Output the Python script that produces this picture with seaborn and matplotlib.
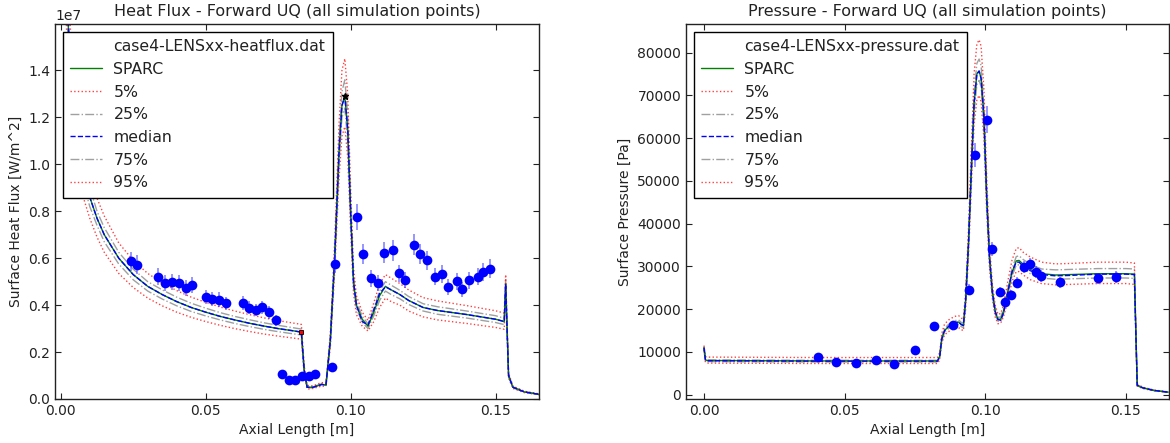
import numpy as np
import pandas as pd
import matplotlib
matplotlib.use("Agg")
import matplotlib.pyplot as plt
from matplotlib.lines import Line2D
import seaborn as sns

# ---------------- Heat flux (values in 1e7 W/m^2) ----------------
hf_x = [0.0000, 0.0010, 0.0020, 0.0030, 0.0040, 0.0060, 0.0080, 0.0100, 0.0125, 0.0150,
        0.0200, 0.0250, 0.0300, 0.0350, 0.0400, 0.0450, 0.0500, 0.0550, 0.0600, 0.0650,
        0.0700, 0.0750, 0.0800, 0.0830, 0.0840, 0.0850, 0.0870, 0.0900, 0.0915, 0.0930,
        0.0945, 0.0960, 0.0970, 0.0980, 0.0990, 0.1000, 0.1010, 0.1020, 0.1040, 0.1060,
        0.1080, 0.1100, 0.1120, 0.1140, 0.1170, 0.1200, 0.1250, 0.1300, 0.1400, 0.1500,
        0.1530, 0.1535, 0.1545, 0.1560, 0.1600, 0.1650]
hf_sparc = [3.00, 2.30, 1.75, 1.48, 1.30, 1.08, 0.95, 0.86, 0.77, 0.70,
            0.60, 0.53, 0.48, 0.445, 0.415, 0.39, 0.37, 0.352, 0.337, 0.323,
            0.311, 0.300, 0.291, 0.285, 0.12, 0.05, 0.05, 0.062, 0.06, 0.25,
            0.60, 1.05, 1.25, 1.29, 1.15, 0.80, 0.50, 0.40, 0.34, 0.31,
            0.37, 0.44, 0.48, 0.465, 0.445, 0.42, 0.39, 0.377, 0.36, 0.34,
            0.33, 0.49, 0.10, 0.05, 0.03, 0.02]
hf_p05 = [2.70, 2.05, 1.56, 1.32, 1.16, 0.96, 0.85, 0.77, 0.69, 0.625,
          0.535, 0.475, 0.43, 0.397, 0.37, 0.348, 0.33, 0.314, 0.30, 0.288,
          0.277, 0.268, 0.26, 0.255, 0.10, 0.042, 0.045, 0.055, 0.054, 0.22,
          0.54, 0.94, 1.12, 1.16, 1.03, 0.72, 0.45, 0.36, 0.31, 0.29,
          0.33, 0.39, 0.43, 0.415, 0.40, 0.375, 0.35, 0.337, 0.322, 0.305,
          0.297, 0.44, 0.09, 0.045, 0.027, 0.018]
hf_p25 = [2.88, 2.20, 1.68, 1.42, 1.24, 1.03, 0.91, 0.82, 0.74, 0.67,
          0.575, 0.508, 0.46, 0.426, 0.397, 0.373, 0.354, 0.337, 0.322, 0.309,
          0.297, 0.287, 0.278, 0.273, 0.11, 0.047, 0.048, 0.059, 0.058, 0.24,
          0.575, 1.00, 1.20, 1.24, 1.10, 0.77, 0.48, 0.385, 0.327, 0.30,
          0.355, 0.42, 0.46, 0.445, 0.427, 0.403, 0.375, 0.361, 0.345, 0.326,
          0.317, 0.47, 0.095, 0.048, 0.029, 0.019]
hf_med = [3.00, 2.30, 1.75, 1.48, 1.30, 1.08, 0.95, 0.86, 0.77, 0.70,
          0.60, 0.53, 0.48, 0.445, 0.415, 0.39, 0.37, 0.352, 0.337, 0.323,
          0.311, 0.300, 0.291, 0.285, 0.12, 0.05, 0.05, 0.062, 0.06, 0.25,
          0.60, 1.05, 1.25, 1.29, 1.15, 0.80, 0.50, 0.40, 0.33, 0.315,
          0.38, 0.45, 0.478, 0.465, 0.445, 0.42, 0.39, 0.377, 0.36, 0.34,
          0.33, 0.49, 0.10, 0.05, 0.03, 0.02]
hf_p75 = [3.12, 2.40, 1.82, 1.54, 1.36, 1.13, 0.99, 0.90, 0.80, 0.73,
          0.625, 0.553, 0.50, 0.465, 0.434, 0.408, 0.387, 0.368, 0.352, 0.338,
          0.325, 0.314, 0.304, 0.298, 0.13, 0.053, 0.052, 0.065, 0.063, 0.26,
          0.625, 1.10, 1.31, 1.36, 1.21, 0.84, 0.52, 0.415, 0.353, 0.32,
          0.385, 0.46, 0.50, 0.485, 0.463, 0.437, 0.406, 0.393, 0.375, 0.355,
          0.344, 0.51, 0.105, 0.052, 0.031, 0.021]
hf_p95 = [3.30, 2.55, 1.94, 1.64, 1.44, 1.20, 1.05, 0.95, 0.855, 0.78,
          0.665, 0.59, 0.535, 0.495, 0.462, 0.434, 0.412, 0.392, 0.375, 0.36,
          0.346, 0.334, 0.324, 0.318, 0.14, 0.058, 0.056, 0.07, 0.068, 0.28,
          0.67, 1.17, 1.40, 1.45, 1.30, 0.90, 0.56, 0.44, 0.37, 0.335,
          0.41, 0.49, 0.53, 0.515, 0.492, 0.465, 0.432, 0.418, 0.398, 0.376,
          0.366, 0.53, 0.11, 0.055, 0.033, 0.022]

hf_exp_x = [0.0241, 0.0264, 0.0337, 0.0360, 0.0384, 0.0409, 0.0431, 0.0453, 0.0501, 0.0523,
            0.0547, 0.0569, 0.0627, 0.0651, 0.0672, 0.0695, 0.0718, 0.0741, 0.0763, 0.0787,
            0.0809, 0.0832, 0.0855, 0.0877, 0.0936, 0.0947, 0.1023, 0.1043, 0.1072, 0.1096,
            0.1116, 0.1146, 0.1168, 0.1189, 0.1219, 0.1240, 0.1263, 0.1290, 0.1315, 0.1336,
            0.1366, 0.1384, 0.1408, 0.1438, 0.1458, 0.1482]
hf_exp_y = [0.587, 0.572, 0.522, 0.495, 0.498, 0.495, 0.474, 0.484, 0.434, 0.428,
            0.424, 0.407, 0.409, 0.389, 0.379, 0.391, 0.369, 0.335, 0.108, 0.079,
            0.079, 0.096, 0.096, 0.106, 0.138, 0.577, 0.775, 0.617, 0.515, 0.494,
            0.624, 0.634, 0.535, 0.506, 0.658, 0.618, 0.591, 0.521, 0.532, 0.479,
            0.501, 0.467, 0.505, 0.522, 0.540, 0.556]
hf_exp_err = [0.041, 0.040, 0.037, 0.035, 0.035, 0.035, 0.033, 0.034, 0.030, 0.030,
              0.030, 0.028, 0.029, 0.027, 0.027, 0.027, 0.026, 0.023, 0.006, 0.005,
              0.005, 0.006, 0.006, 0.007, 0.009, 0.040, 0.054, 0.043, 0.036, 0.035,
              0.044, 0.044, 0.037, 0.035, 0.046, 0.043, 0.041, 0.036, 0.037, 0.034,
              0.035, 0.033, 0.035, 0.037, 0.038, 0.039]

# ---------------- Pressure (Pa) ----------------
p_x = [0.0000, 0.0005, 0.0010, 0.0200, 0.0400, 0.0600, 0.0830, 0.0838, 0.0845, 0.0855,
       0.0870, 0.0890, 0.0905, 0.0915, 0.0922, 0.0930, 0.0940, 0.0950, 0.0960, 0.0970,
       0.0978, 0.0985, 0.0995, 0.1005, 0.1015, 0.1025, 0.1035, 0.1045, 0.1055, 0.1065,
       0.1080, 0.1095, 0.1110, 0.1120, 0.1135, 0.1160, 0.1200, 0.1250, 0.1300, 0.1400,
       0.1500, 0.1530, 0.1535, 0.1540, 0.1560, 0.1600, 0.1650]
p_sparc = [11000, 8200, 8000, 7950, 7900, 7900, 7900, 9000, 13000, 15000,
           16000, 16800, 17000, 16400, 16200, 22000, 35000, 52000, 68000, 75000,
           75700, 74000, 65000, 46000, 32000, 24000, 19500, 17600, 17700, 19500,
           24000, 28500, 31300, 31400, 30500, 29300, 28300, 28000, 28100, 28300,
           28300, 28200, 15000, 2200, 1600, 1000, 600]
p_p05 = [10500, 7600, 7400, 7350, 7300, 7300, 7300, 8200, 12000, 14000,
         14800, 15500, 15700, 15200, 15000, 20000, 32000, 48000, 63000, 69000,
         70000, 68500, 60000, 42500, 29500, 22500, 18200, 16600, 16800, 18300,
         22000, 26500, 28800, 28800, 28000, 26900, 26000, 25700, 25800, 26000,
         26000, 25800, 14000, 2000, 1450, 900, 550]
p_p25 = [10800, 7950, 7750, 7700, 7650, 7650, 7650, 8700, 12600, 14600,
         15500, 16300, 16500, 15900, 15700, 21200, 34000, 50500, 66000, 72500,
         73500, 72000, 63000, 44500, 31000, 23300, 19000, 17200, 17300, 19000,
         23200, 27700, 30300, 30400, 29500, 28300, 27300, 27000, 27100, 27300,
         27300, 27200, 14600, 2100, 1550, 950, 580]
p_med = [11000, 8150, 7950, 7900, 7850, 7850, 7850, 9000, 13000, 15000,
         16000, 16800, 17000, 16400, 16200, 22000, 35000, 52000, 68000, 75000,
         75700, 74000, 65000, 46000, 32000, 24000, 19500, 17600, 17400, 19200,
         24000, 28800, 31000, 31000, 30000, 29000, 28100, 27800, 27900, 28200,
         28200, 28100, 15000, 2200, 1600, 1000, 600]
p_p75 = [11200, 8350, 8150, 8100, 8050, 8050, 8050, 9300, 13400, 15500,
         16500, 17300, 17500, 16900, 16700, 22800, 36000, 54000, 70500, 77500,
         78500, 77000, 67500, 48000, 33200, 24700, 20100, 18100, 18200, 20100,
         24800, 29500, 32300, 32500, 31600, 30500, 29400, 29200, 29300, 29500,
         29500, 29400, 15500, 2300, 1650, 1050, 620]
p_p95 = [11500, 8900, 8800, 8750, 8700, 8700, 8700, 9900, 14300, 16500,
         17500, 18300, 18500, 17900, 17700, 24000, 38500, 57000, 75000, 82000,
         83000, 81500, 71500, 51000, 35000, 26000, 21000, 18800, 19000, 21000,
         26500, 31500, 34200, 34400, 33300, 32200, 31000, 30600, 30700, 31000,
         31000, 30800, 16000, 2500, 1750, 1100, 650]

p_exp_x = [0.0404, 0.0470, 0.0540, 0.0610, 0.0675, 0.0750, 0.0816, 0.0885, 0.0942, 0.0965,
           0.1006, 0.1025, 0.1051, 0.1070, 0.1093, 0.1114, 0.1136, 0.1159, 0.1181, 0.1199,
           0.1267, 0.1399, 0.1464]
p_exp_y = [8730, 7560, 7400, 8180, 7250, 10370, 15980, 16370, 24550, 56030,
           64340, 34060, 24010, 21670, 23230, 26190, 29850, 30480, 28680, 27830,
           26270, 27200, 27510]
p_exp_err = [440, 380, 370, 410, 360, 520, 800, 820, 1230, 2800,
             3220, 1700, 1200, 1080, 1160, 1310, 1490, 1520, 1430, 1390,
             1310, 1360, 1380]

legend_labels_hf = ["case4-LENSxx-heatflux.dat", "SPARC", "5%", "25%", "median", "75%", "95%"]
legend_labels_p = ["case4-LENSxx-pressure.dat", "SPARC", "5%", "25%", "median", "75%", "95%"]

# ---------------- Style ----------------
sns.set_theme(style="white")
plt.rcParams.update({
    "font.family": ["DejaVu Sans"],
    "axes.edgecolor": "#222222",
    "axes.linewidth": 1.0,
    "text.color": "#222222",
    "axes.labelcolor": "#222222",
    "xtick.color": "#222222",
    "ytick.color": "#222222",
    "xtick.direction": "in",
    "ytick.direction": "in",
    "xtick.top": True,
    "ytick.right": True,
    "xtick.bottom": True,
    "ytick.left": True,
    "xtick.major.size": 4,
    "ytick.major.size": 4,
    "xtick.major.width": 0.8,
    "ytick.major.width": 0.8,
    "xtick.labelsize": 10,
    "ytick.labelsize": 10,
    "axes.labelsize": 10,
    "axes.titlesize": 11.5,
})

fig = plt.figure(figsize=(11.7, 4.43), dpi=100)
ax1 = fig.add_axes([55 / 1170, 1 - 399 / 443, 484 / 1170, 375 / 443])
ax2 = fig.add_axes([686 / 1170, 1 - 399 / 443, 483 / 1170, 375 / 443])

series_styles = [
    ("5%", dict(color="red", linestyle=":", alpha=0.75, linewidth=1.0)),
    ("25%", dict(color="gray", linestyle="-.", alpha=0.75, linewidth=1.0)),
    ("75%", dict(color="gray", linestyle="-.", alpha=0.75, linewidth=1.0)),
    ("95%", dict(color="red", linestyle=":", alpha=0.75, linewidth=1.0)),
    ("SPARC", dict(color="green", linestyle="-", linewidth=1.0)),
    ("median", dict(color="blue", linestyle="--", linewidth=1.0)),
]


def draw_panel(ax, x, curves, ex, ey, eerr, scale, labels):
    handles = {}
    for name, st in series_styles:
        y = np.asarray(curves[name], dtype=float) * scale
        df = pd.DataFrame({"x": x, "y": y})
        sns.lineplot(data=df, x="x", y="y", ax=ax, sort=False, estimator=None,
                     legend=False, **st)
        handles[name] = Line2D([], [], **st)
    ax.errorbar(np.asarray(ex), np.asarray(ey, dtype=float) * scale,
                yerr=np.asarray(eerr, dtype=float) * scale,
                fmt="o", color="blue", markersize=7, markeredgewidth=0,
                ecolor=(0.2, 0.2, 1.0, 0.6), elinewidth=1.2, capsize=4, capthick=1.0,
                zorder=5)
    blank = Line2D([], [], linestyle="none", marker=None)
    hl = [blank, handles["SPARC"], handles["5%"], handles["25%"], handles["median"],
          handles["75%"], handles["95%"]]
    leg = ax.legend(hl, labels, loc="upper left", fontsize=11.3, frameon=True,
                    fancybox=False, edgecolor="black", framealpha=1.0,
                    borderaxespad=0.5, handlelength=2.0, labelspacing=0.49,
                    borderpad=0.47, handletextpad=0.75)
    leg.get_frame().set_linewidth(1.0)
    ax.set_xlabel("Axial Length [m]")


draw_panel(ax1, hf_x,
           {"SPARC": hf_sparc, "5%": hf_p05, "25%": hf_p25, "median": hf_med,
            "75%": hf_p75, "95%": hf_p95},
           hf_exp_x, hf_exp_y, hf_exp_err, 1e7, legend_labels_hf)
# special markers on the heat flux panel
ax1.plot([0.0980], [1.29e7], marker="*", color="black", markersize=5, linestyle="none", zorder=6)
ax1.plot([0.0830], [0.285e7], marker="s", color="red", markeredgecolor="black",
         markeredgewidth=0.6, markersize=3, linestyle="none", zorder=6)
ax1.set_xlim(-0.002, 0.165)
ax1.set_ylim(0, 1.598e7)
ax1.set_yticks([0, 0.2e7, 0.4e7, 0.6e7, 0.8e7, 1.0e7, 1.2e7, 1.4e7])
ax1.set_xticks([0.0, 0.05, 0.10, 0.15])
ax1.xaxis.set_major_formatter(matplotlib.ticker.FormatStrFormatter("%.2f"))
ax1.set_ylabel("Surface Heat Flux [W/m^2]")
ax1.set_title("Heat Flux - Forward UQ (all simulation points)")

draw_panel(ax2, p_x,
           {"SPARC": p_sparc, "5%": p_p05, "25%": p_p25, "median": p_med,
            "75%": p_p75, "95%": p_p95},
           p_exp_x, p_exp_y, p_exp_err, 1.0, legend_labels_p)
ax2.set_xlim(-0.0064, 0.1653)
ax2.set_ylim(-1000, 86700)
ax2.set_yticks(np.arange(0, 80001, 10000))
ax2.set_xticks([0.0, 0.05, 0.10, 0.15])
ax2.xaxis.set_major_formatter(matplotlib.ticker.FormatStrFormatter("%.2f"))
ax2.set_ylabel("Surface Pressure [Pa]")
ax2.set_title("Pressure - Forward UQ (all simulation points)")

for ax in (ax1, ax2):
    for sp in ax.spines.values():
        sp.set_visible(True)
        sp.set_color("#222222")

fig.savefig("out.png", dpi=100)
